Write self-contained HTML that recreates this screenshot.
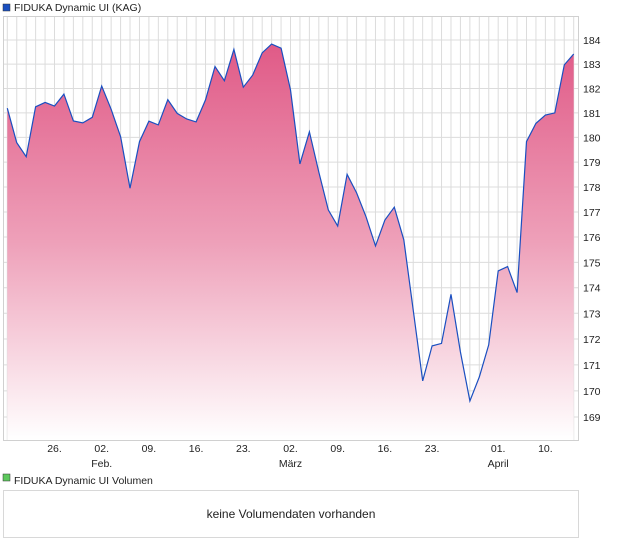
<!DOCTYPE html>
<html><head><meta charset="utf-8"><style>
body{margin:0;background:#fff;font-family:"Liberation Sans",sans-serif;}
svg text{font-family:"Liberation Sans",sans-serif;font-size:10.5px;fill:#222;}
</style></head><body>
<svg width="620" height="546">
<defs><linearGradient id="g" x1="0" y1="0" x2="0" y2="1">
<stop offset="0" stop-color="#e05a87"/><stop offset="0.5" stop-color="#eea0b9"/><stop offset="1" stop-color="#ffffff"/></linearGradient></defs>
<rect x="3" y="4" width="7" height="7" fill="#1a4fc0" stroke="#333" stroke-width="0.5"/>
<text x="14" y="11">FIDUKA Dynamic UI (KAG)</text>
<rect x="3.5" y="16.5" width="575" height="424" fill="#fff" stroke="#d0d0d0"/>
<g id="grid"></g><g id="area"></g><g id="yt"></g><g id="xt"></g>
<rect x="3" y="474" width="7" height="7" fill="#5cc85c" stroke="#333" stroke-width="0.5"/>
<text x="14" y="484">FIDUKA Dynamic UI Volumen</text>
<rect x="3.5" y="490.5" width="575" height="47" fill="#fff" stroke="#d8d8d8"/>
<text x="291" y="518" text-anchor="middle" style="font-size:12px">keine Volumendaten vorhanden</text>
</svg>
<script>
const values=[181.19,179.79,179.22,181.25,181.43,181.28,181.77,180.67,180.59,180.82,182.10,181.15,180.03,177.95,179.83,180.66,180.51,181.54,180.98,180.75,180.63,181.53,182.90,182.32,183.61,182.05,182.55,183.47,183.83,183.66,181.94,178.93,180.23,178.6,177.08,176.44,178.51,177.76,176.81,175.65,176.68,177.19,175.89,173.13,170.38,171.73,171.83,173.74,171.5,169.61,170.53,171.77,174.66,174.83,173.81,179.83,180.57,180.91,181.0,182.97,183.42];
const yTicks=[169,170,171,172,173,174,175,176,177,178,179,180,181,182,183,184];
const xTickIdx=[5,10,15,20,25,30,35,40,45,52,57];
const xTickLabels=["26.","02.","09.","16.","23.","02.","09.","16.","23.","01.","10."];
const xSubLabels=["","Feb.","","","","März","","","","April",""];
const NS="http://www.w3.org/2000/svg";
const X=i=>7.3+i*9.44;
const Y=v=>40+4433*Math.log(184/v);
function mk(t,a,p){const e=document.createElementNS(NS,t);for(const k in a)e.setAttribute(k,a[k]);p.appendChild(e);return e;}
const grid=document.getElementById('grid'),area=document.getElementById('area'),yt=document.getElementById('yt'),xt=document.getElementById('xt');
for(let i=0;i<values.length;i++){
 const l=mk('line',{x1:X(i),x2:X(i),y1:17,y2:440,stroke:'#dcdcdc'},grid);
 
 
}
yTicks.forEach(v=>{
 const l=mk('line',{x1:4,x2:578,y1:Y(v),y2:Y(v),stroke:'#dcdcdc'},grid);
 
 
 const t=mk('text',{x:583,y:Y(v)+4},yt);t.textContent=v;
 
 
});
let d=values.map((v,i)=>(i?'L':'M')+X(i).toFixed(1)+','+Y(v).toFixed(1)).join(' ');
const a=mk('path',{d:d+` L${X(values.length-1)},440 L${X(0)},440 Z`,fill:'url(#g)'},area);


const ln=mk('path',{d:d,fill:'none',stroke:'#1a4fc0','stroke-width':1.2},area);


xTickIdx.forEach((idx,k)=>{
 const t=mk('text',{x:X(idx),y:452,'text-anchor':'middle'},xt);t.textContent=xTickLabels[k];
 
 
 if(xSubLabels[k]){const s=mk('text',{x:X(idx),y:467,'text-anchor':'middle'},xt);s.textContent=xSubLabels[k];
 
 }
});
</script>
</body></html>
